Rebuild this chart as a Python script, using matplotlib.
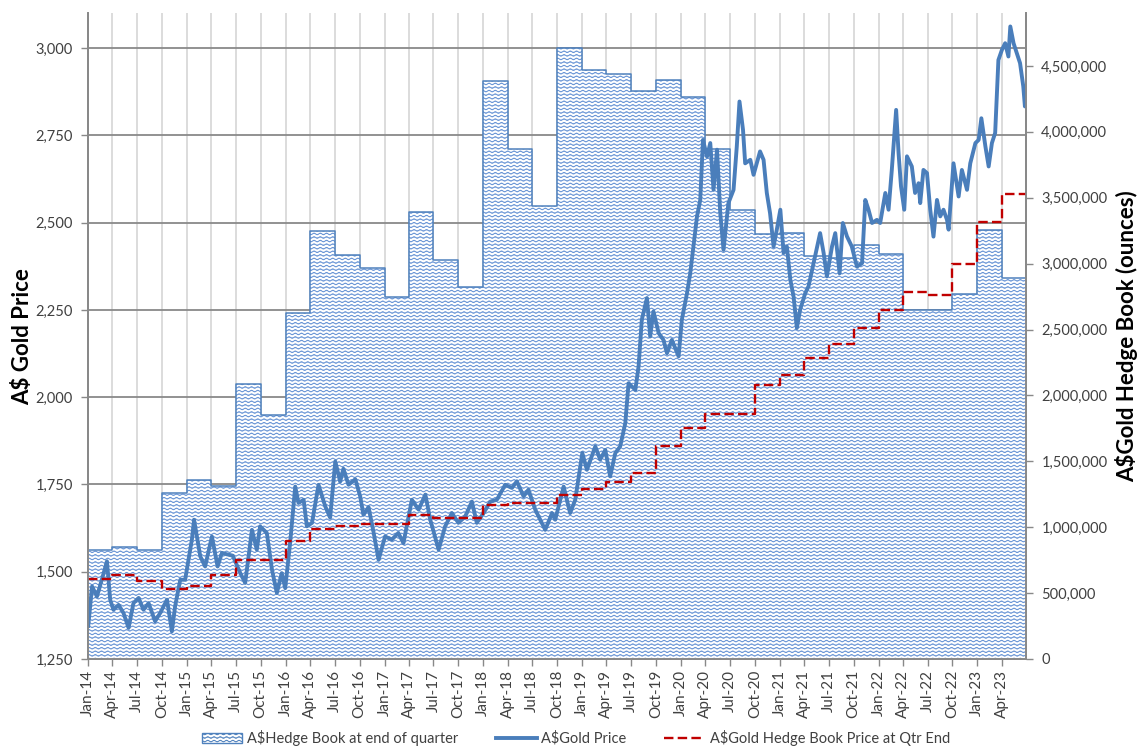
import warnings
import numpy as np
import pandas as pd
import matplotlib
matplotlib.use('Agg')
import matplotlib.pyplot as plt
import matplotlib.dates as mdates
import matplotlib.hatch as mhatch
from matplotlib.path import Path
from matplotlib.patches import Patch
from matplotlib.lines import Line2D
from matplotlib.ticker import FuncFormatter

warnings.filterwarnings('ignore')
plt.rcParams['font.family'] = ['Lato', 'DejaVu Sans']
plt.rcParams['text.parse_math'] = False

# hedge book at end of each quarter (ounces), Q1-14 .. Q2-23
hedge_oz = [829000, 847000, 829000, 1259000, 1355000, 1310000, 2086000, 1848000,
            2625000, 3249000, 3067000, 2964000, 2744000, 3389000, 3030000, 2822000,
            4388000, 3872000, 3434000, 4636000, 4471000, 4441000, 4307000, 4390000,
            4264000, 3869000, 3409000, 3225000, 3230000, 3055000, 3040000, 3138000,
            3070000, 2645000, 2645000, 2769000, 3257000, 2891000]

# hedge book price at quarter end (A$/oz)
hedge_price = [1479, 1492, 1474, 1450, 1460, 1492, 1534, 1534,
               1587, 1623, 1632, 1637, 1637, 1663, 1654, 1654,
               1692, 1697, 1697, 1719, 1737, 1756, 1783, 1861,
               1912, 1952, 1952, 2035, 2063, 2112, 2152, 2198,
               2250, 2301, 2294, 2381, 2503, 2582]

gold_dates = [
    '2014-01-02', '2014-01-16', '2014-02-03', '2014-02-21', '2014-03-12', '2014-03-24',
    '2014-04-05', '2014-04-24', '2014-05-12', '2014-05-31', '2014-06-18', '2014-07-07',
    '2014-07-25', '2014-08-13', '2014-09-06', '2014-09-25', '2014-10-20', '2014-11-07',
    '2014-11-19', '2014-12-08', '2014-12-26', '2015-01-20', '2015-01-28', '2015-02-20',
    '2015-03-10', '2015-04-04', '2015-04-25', '2015-05-11', '2015-05-29', '2015-06-20',
    '2015-07-18', '2015-08-05', '2015-08-30', '2015-09-17', '2015-09-29', '2015-10-24',
    '2015-11-12', '2015-11-30', '2015-12-18', '2015-12-31', '2016-01-18', '2016-02-06',
    '2016-02-18', '2016-03-08', '2016-03-20', '2016-04-08', '2016-05-02', '2016-05-27',
    '2016-06-14', '2016-07-03', '2016-07-21', '2016-08-02', '2016-08-21', '2016-09-15',
    '2016-10-03', '2016-10-15', '2016-11-03', '2016-11-21', '2016-12-10', '2017-01-03',
    '2017-01-28', '2017-02-21', '2017-03-12', '2017-04-12', '2017-05-07', '2017-06-01',
    '2017-06-19', '2017-07-20', '2017-08-13', '2017-09-07', '2017-10-01', '2017-10-26',
    '2017-11-20', '2017-12-08', '2018-01-02', '2018-01-27', '2018-02-20', '2018-03-23',
    '2018-04-17', '2018-05-05', '2018-05-30', '2018-06-17', '2018-07-12', '2018-08-18',
    '2018-09-12', '2018-09-24', '2018-10-25', '2018-11-18', '2018-12-07', '2019-01-02',
    '2019-01-19', '2019-02-19', '2019-03-09', '2019-03-28', '2019-04-15', '2019-05-04',
    '2019-05-22', '2019-06-10', '2019-06-22', '2019-07-17', '2019-07-29', '2019-08-10',
    '2019-08-29', '2019-09-10', '2019-09-22', '2019-10-11', '2019-10-29', '2019-11-11',
    '2019-11-29', '2019-12-24', '2020-01-05', '2020-01-24', '2020-02-05', '2020-02-17',
    '2020-03-01', '2020-03-13', '2020-03-23', '2020-04-07', '2020-04-19', '2020-05-01',
    '2020-05-14', '2020-05-26', '2020-06-07', '2020-06-25', '2020-07-14', '2020-07-26',
    '2020-08-05', '2020-08-18', '2020-08-26', '2020-09-14', '2020-09-26', '2020-10-08',
    '2020-10-20', '2020-11-02', '2020-11-14', '2020-11-26', '2020-12-09', '2020-12-21',
    '2021-01-03', '2021-01-15', '2021-01-27', '2021-02-09', '2021-02-21', '2021-03-05',
    '2021-03-17', '2021-04-05', '2021-04-17', '2021-05-06', '2021-05-30', '2021-06-12',
    '2021-06-24', '2021-07-13', '2021-07-25', '2021-08-10', '2021-08-22', '2021-09-06',
    '2021-09-24', '2021-10-13', '2021-11-01', '2021-11-13', '2021-11-25', '2021-12-08',
    '2021-12-26', '2022-01-07', '2022-01-26', '2022-02-07', '2022-02-19', '2022-03-07',
    '2022-03-16', '2022-03-25', '2022-04-06', '2022-04-16', '2022-05-04', '2022-05-16',
    '2022-05-29', '2022-06-04', '2022-06-16', '2022-06-29', '2022-07-11', '2022-07-23',
    '2022-08-05', '2022-08-17', '2022-08-29', '2022-09-11', '2022-09-17', '2022-10-05',
    '2022-10-24', '2022-11-05', '2022-11-24', '2022-12-06', '2022-12-25', '2023-01-06',
    '2023-01-16', '2023-01-31', '2023-02-12', '2023-02-24', '2023-03-08', '2023-03-20',
    '2023-04-02', '2023-04-14', '2023-04-26', '2023-05-03', '2023-05-15', '2023-05-27',
    '2023-06-08', '2023-06-20', '2023-06-26', '2023-06-29']

gold_price = [
    1345, 1458, 1429, 1477, 1530, 1420, 1391, 1405, 1382, 1339, 1410, 1425,
    1391, 1410, 1358, 1382, 1420, 1329, 1401, 1477, 1477, 1592, 1649, 1544,
    1515, 1601, 1515, 1554, 1550, 1546, 1496, 1468, 1620, 1563, 1630, 1611,
    1506, 1439, 1496, 1453, 1582, 1744, 1697, 1706, 1630, 1640, 1749, 1687,
    1655, 1816, 1758, 1795, 1749, 1765, 1716, 1663, 1685, 1615, 1534, 1601,
    1592, 1611, 1582, 1706, 1678, 1721, 1649, 1563, 1630, 1668, 1640, 1658,
    1701, 1640, 1668, 1701, 1706, 1749, 1740, 1759, 1716, 1735, 1678, 1620,
    1668, 1649, 1744, 1668, 1706, 1840, 1792, 1859, 1821, 1849, 1773, 1840,
    1859, 1926, 2040, 2021, 2088, 2222, 2284, 2174, 2246, 2184, 2164, 2126,
    2164, 2117, 2222, 2298, 2355, 2432, 2518, 2565, 2737, 2689, 2728, 2594,
    2709, 2527, 2422, 2556, 2594, 2718, 2847, 2766, 2670, 2680, 2637, 2670,
    2704, 2680, 2585, 2527, 2432, 2480, 2537, 2413, 2432, 2336, 2288, 2198,
    2250, 2298, 2317, 2384, 2470, 2413, 2346, 2432, 2470, 2355, 2499, 2461,
    2432, 2374, 2384, 2565, 2537, 2499, 2508, 2499, 2585, 2537, 2651, 2823,
    2699, 2604, 2537, 2690, 2661, 2585, 2613, 2556, 2651, 2642, 2537, 2460,
    2565, 2518, 2537, 2508, 2480, 2670, 2575, 2651, 2594, 2670, 2728, 2737,
    2799, 2718, 2661, 2728, 2757, 2966, 2995, 3014, 2976, 3062, 3014, 2986,
    2957, 2890, 2833, 2870]

labels = ['A$Hedge Book at end of quarter', 'A$Gold Price',
          'A$Gold Hedge Book Price at Qtr End']


# wavy fill pattern like the Excel "wave" pattern
class WaveHatch(mhatch.HatchPatternBase):
    def __init__(self, hatch, density):
        self.num_rows = hatch.count('~') * 7
        self.num_waves = 16
        self.pts = self.num_waves * 8 + 1
        self.num_vertices = self.num_rows * self.pts

    def set_vertices_and_codes(self, vertices, codes):
        t = np.linspace(0, 1, self.pts)
        k = 0
        for r in range(self.num_rows):
            y0 = (r + 0.5) / self.num_rows
            vertices[k:k + self.pts, 0] = t
            vertices[k:k + self.pts, 1] = y0 + 0.22 / self.num_rows * np.sin(2 * np.pi * self.num_waves * t)
            codes[k] = Path.MOVETO
            codes[k + 1:k + self.pts] = Path.LINETO
            k += self.pts


mhatch._hatch_types.append(WaveHatch)
plt.rcParams['hatch.linewidth'] = 0.7
hatch_col = '#6592d4'
plt.rcParams['hatch.color'] = hatch_col

start = pd.Timestamp('2014-01-01')
x_end = pd.Timestamp('2023-06-30')
quarters = pd.date_range(start, periods=len(hedge_oz), freq='QS')
qx = list(quarters) + [x_end]
oz = hedge_oz + hedge_oz[-1:]
hp = hedge_price + hedge_price[-1:]
gd = pd.to_datetime(gold_dates)

grey = '#898989'
txt = '#404040'

fig = plt.figure(figsize=(11.4, 7.47), dpi=100)
ax = fig.add_axes([88 / 1140, 88 / 747, 938 / 1140, 645.8 / 747])
ax.set_xlim(start, x_end)
ax.set_ylim(1250, 3100)
ax.set_yticks(range(1250, 3001, 250))
ax.yaxis.set_major_formatter(FuncFormatter(lambda v, p: f'{v:,.0f}'))
ax.xaxis.set_major_locator(mdates.MonthLocator(bymonth=(1, 4, 7, 10)))
ax.xaxis.set_major_formatter(mdates.DateFormatter('%b-%y'))
ax.grid(axis='y', color=grey, lw=1.3)
ax.grid(axis='x', color='#d9d9d9', lw=1.3)
ax.set_axisbelow(True)
ax.tick_params(axis='y', direction='out', length=5, width=1, color=grey,
               labelsize=10.5, labelcolor=txt, pad=6)
ax.tick_params(axis='x', direction='out', length=5, width=1, color=grey,
               labelsize=11, labelcolor=txt, labelrotation=90, pad=3)
ax.set_ylabel('A$ Gold Price', fontsize=16, fontweight='bold', va='center')
ax.yaxis.set_label_coords(-0.07, 0.5)

# hedge book area on the right axis
ax2 = ax.twinx()
ax2.fill_between(qx, oz, step='post', facecolor='white', edgecolor=hatch_col,
                 hatch='~~~~', lw=0)
ax2.step(qx, oz, where='post', color='#4f81bd', lw=1.1)
ax2.set_ylim(0, 4900000)
ax2.set_yticks(range(0, 4500001, 500000))
ax2.yaxis.set_major_formatter(FuncFormatter(lambda v, p: f'{v:,.0f}'))
ax2.tick_params(axis='y', direction='out', length=5, width=1, color=grey,
                labelsize=10.5, labelcolor=txt, pad=6)
ax2.set_ylabel('A$Gold Hedge Book (ounces)', fontsize=16, fontweight='bold', va='center')
ax2.yaxis.set_label_coords(1.107, 0.5)

# price lines on top, sharing the left scale
ax3 = ax.twinx()
ax3.set_ylim(ax.get_ylim())
ax3.yaxis.set_visible(False)
ax3.plot(gd, gold_price, color='#4a7ebb', lw=2.8, solid_joinstyle='round')
ax3.step(qx, hp, where='post', color='#c00000', lw=1.7, dashes=(4, 1.8))

for a in (ax, ax2, ax3):
    a.spines['top'].set_visible(False)
    for s in ('left', 'right', 'bottom'):
        a.spines[s].set_color(grey)
        a.spines[s].set_linewidth(1.2)

handles = [Patch(facecolor='white', edgecolor='#4f81bd', hatch='~~~~', lw=1),
           Line2D([], [], color='#4a7ebb', lw=2.8),
           Line2D([], [], color='#c00000', lw=1.7, dashes=(4, 1.8))]
fig.legend(handles, labels, loc='lower center', bbox_to_anchor=(0.505, -0.016),
           ncol=3, frameon=False, fontsize=10.5, handlelength=2.8,
           handletextpad=0.3, columnspacing=2.6, labelcolor=txt)

fig.savefig('out.png', dpi=100)
